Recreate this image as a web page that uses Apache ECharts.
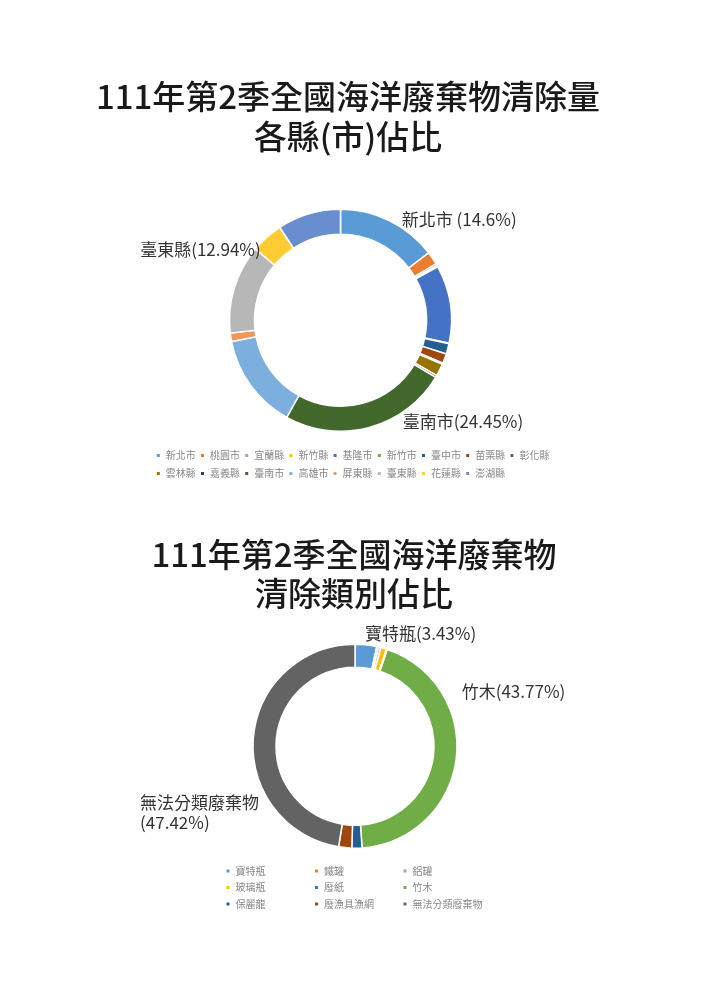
<!DOCTYPE html>
<html><head><meta charset="utf-8">
<script src="https://cdn.jsdelivr.net/npm/echarts@6/dist/echarts.min.js"></script>
<style>html,body{margin:0;padding:0;background:#fff}#c{width:707px;height:1000px}</style>
</head><body><div id="c"></div>
<script>
// ---- data ----
const title1 = '111年第2季全國海洋廢棄物清除量\n各縣(市)佔比';
const title2 = '111年第2季全國海洋廢棄物\n清除類別佔比';
const counties = ['新北市','桃園市','宜蘭縣','新竹縣','基隆市','新竹市','臺中市','苗栗縣','彰化縣','雲林縣','嘉義縣','臺南市','高雄市','屏東縣','臺東縣','花蓮縣','澎湖縣'];
const countyShares = [14.6, 1.9, 0.3, 0.2, 11.3, 0.1, 1.5, 1.4, 0.2, 1.8, 0.3, 24.45, 13.9, 1.2, 12.94, 4.7, 9.2];
const wasteTypes = ['寶特瓶','鐵罐','鋁罐','玻璃瓶','廢紙','竹木','保麗龍','廢漁具漁網','無法分類廢棄物'];
const wasteShares = [3.43, 0.3, 0.35, 0.9, 0.15, 43.77, 1.6, 2.08, 47.42];

// ---- style ----
const FONT = "'Noto Sans CJK TC','Noto Sans',sans-serif";
const palette = ['#5B9BD5','#ED7D31','#A5A5A5','#FFC000','#4472C4','#70AD47','#255E91','#9E480E','#636363','#997300','#264478','#43682B','#7CAFDD','#F1975A','#B7B7B7','#FFCD33','#698ED0'];
const labelCfg1 = {
  '新北市': {fmt:'{b} ({c}%)', dx:7, dy:-1.5},
  '臺南市': {fmt:'{b}({c}%)', dx:28.4, dy:-5.8},
  '臺東縣': {fmt:'{b}({c}%)', dx:31.6, dy:-39.3}
};
const labelCfg2 = {
  '寶特瓶': {fmt:'{b}({c}%)', dx:-6, dy:-11.3},
  '竹木': {fmt:'{b}({c}%)', dx:0.5, dy:-67.2},
  '無法分類廢棄物': {fmt:'{b}\n({c}%)', dx:-108.3, dy:74.7, align:'left'}
};

function buildData(names, vals, cfg) {
  return names.map(function(n, i) {
    const item = {name: n, value: vals[i]};
    if (cfg[n]) item.label = {show: true, formatter: cfg[n].fmt};
    return item;
  });
}
function layoutFn(cfg, names) {
  return function(p) {
    const c = cfg[names[p.dataIndex]];
    if (!c) return {};
    const o = {dx: c.dx, dy: c.dy};
    if (c.align) o.align = c.align;
    return o;
  };
}
function pieSeries(names, vals, cfg, center, radius) {
  return {
    type: 'pie', center: center, radius: radius, startAngle: 90, clockwise: true,
    avoidLabelOverlap: false, silent: true, animation: false,
    itemStyle: {borderColor: '#fff', borderWidth: 1.5},
    emphasis: {disabled: true},
    label: {show: false, position: 'outside', color: '#333', fontSize: 17, fontFamily: FONT, lineHeight: 20, distanceToLabelLine: 5},
    labelLine: {show: false, length: 0, length2: 0},
    labelLayout: layoutFn(cfg, names),
    data: buildData(names, vals, cfg)
  };
}
const legendText = function(w, lh) {
  return {color: '#888', fontSize: 10, fontFamily: FONT, width: w, lineHeight: lh};
};

const chart = echarts.init(document.getElementById('c'), null, {renderer: 'canvas'});
chart.setOption({
  backgroundColor: '#fff',
  animation: false,
  color: palette,
  title: [
    {text: title1, left: 348, top: 76, textAlign: 'center', padding: 0,
     textStyle: {fontSize: 33, lineHeight: 40, color: '#1a1a1a', fontWeight: 500, fontFamily: FONT}},
    {text: title2, left: 354, top: 535.5, textAlign: 'center', padding: 0,
     textStyle: {fontSize: 33, lineHeight: 38.5, color: '#1a1a1a', fontWeight: 500, fontFamily: FONT}}
  ],
  legend: [
    {data: counties, left: 154.8, top: 448, width: 395, orient: 'horizontal', padding: 0,
     icon: 'rect', itemWidth: 5, itemHeight: 5, itemGap: 3, selectedMode: false,
     textStyle: legendText(30.2, 15)},
    {data: wasteTypes, left: 224.5, top: 864.2, width: 270, orient: 'horizontal', padding: 0,
     icon: 'rect', itemWidth: 5, itemHeight: 5, itemGap: 3, selectedMode: false,
     textStyle: legendText(74.5, 13.5)}
  ],
  series: [
    pieSeries(counties, countyShares, labelCfg1, [340.5, 320.3], [86, 111]),
    pieSeries(wasteTypes, wasteShares, labelCfg2, [355, 746.2], [79, 102])
  ]
});
</script>
</body></html>
